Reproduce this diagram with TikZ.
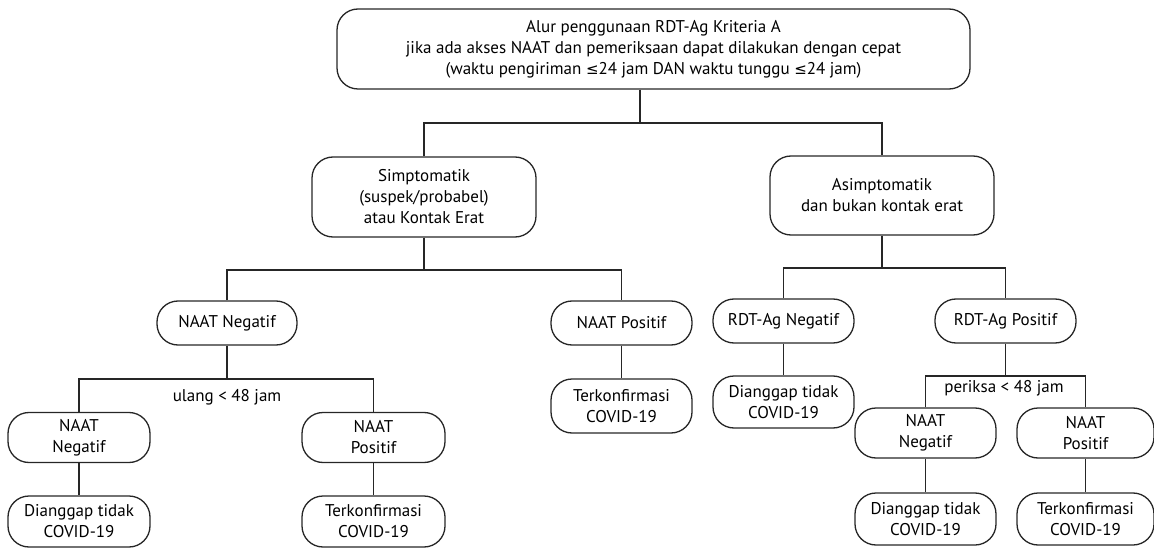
\documentclass[tikz,border=0pt]{standalone}
\usepackage{fontspec}
\setmainfont{PT Sans}
\newfontfamily\symfont{DejaVu Sans}
\newcommand{\lesseq}{{\symfont\fontsize{15}{21}\selectfont ≤}}
\begin{document}
\begin{tikzpicture}[x=1pt,y=-1pt,
  box/.style={draw=black!85, line width=1.3pt, rounded corners=21pt, align=center, inner sep=0pt,
    font=\fontsize{17}{21}\selectfont},
  conn/.style={draw=black!85, line width=1.3pt},
  lbl/.style={font=\fontsize{17}{21}\selectfont, inner sep=0pt}]
\useasboundingbox (0,0) rectangle (1154,548);
% level 0
\node[box, minimum width=633pt, minimum height=80pt] (top) at (653.5,49)
  {Alur penggunaan RDT-Ag Kriteria A\\
   jika ada akses NAAT dan pemeriksaan dapat dilakukan dengan cepat\\
   (waktu pengiriman \lesseq24 jam DAN waktu tunggu \lesseq24 jam)};
% level 1
\node[box, minimum width=224pt, minimum height=80pt] (simp) at (424,197)
  {Simptomatik\\(suspek/probabel)\\atau Kontak Erat};
\node[box, minimum width=224pt, minimum height=79pt] (asim) at (882,195.5)
  {Asimptomatik\\dan bukan kontak erat};
% level 2
\node[box, minimum width=140pt, minimum height=44pt] (nn1) at (227,323) {NAAT Negatif};
\node[box, minimum width=141pt, minimum height=44pt] (np1) at (621.5,323) {NAAT Positif};
\node[box, minimum width=141pt, minimum height=44pt] (rn) at (783.5,321) {RDT-Ag Negatif};
\node[box, minimum width=141pt, minimum height=44pt] (rp) at (1005.5,321) {RDT-Ag Positif};
% level 3
\node[box, minimum width=142pt, minimum height=50pt] (nnA) at (79,437.5) {NAAT\\Negatif};
\node[box, minimum width=143pt, minimum height=50pt] (npA) at (373.5,437.5) {NAAT\\Positif};
\node[box, minimum width=141pt, minimum height=54pt] (t1) at (621.5,406) {Terkonfirmasi\\COVID-19};
\node[box, minimum width=141pt, minimum height=52pt] (d1) at (783.5,402) {Dianggap tidak\\COVID-19};
\node[box, minimum width=141pt, minimum height=50pt] (nnB) at (925.5,433) {NAAT\\Negatif};
\node[box, minimum width=137pt, minimum height=50pt] (npB) at (1085.5,433) {NAAT\\Positif};
% level 4
\node[box, minimum width=142pt, minimum height=51pt] (dA) at (79,521.5) {Dianggap tidak\\COVID-19};
\node[box, minimum width=143pt, minimum height=51pt] (tA) at (373.5,521.5) {Terkonfirmasi\\COVID-19};
\node[box, minimum width=141pt, minimum height=52pt] (dB) at (925.5,519) {Dianggap tidak\\COVID-19};
\node[box, minimum width=137pt, minimum height=52pt] (tB) at (1085.5,519) {Terkonfirmasi\\COVID-19};
% labels
\node[lbl] (l1) at (227,397) {ulang < 48 jam};
\node[lbl] (l2) at (1004,388) {periksa < 48 jam};
% junction coordinates
\coordinate (b0) at (640,123);
\coordinate (b1) at (424,270);
\coordinate (b2) at (882,268);
\coordinate (b3) at (227,379);
\coordinate (b4) at (1005.5,376);
% connectors
\draw[conn] (top.south -| b0) -- (b0);
\draw[conn] (simp.north) |- (b0) -| (asim.north);
\draw[conn] (simp.south) -- (b1);
\draw[conn] (nn1.north) |- (b1) -| (np1.north);
\draw[conn] (asim.south) -- (b2);
\draw[conn] (rn.north) |- (b2) -| (rp.north);
\draw[conn] (nn1.south) -- (b3);
\draw[conn] (nnA.north) |- (b3) -| (npA.north);
\draw[conn] (rp.south) -- (b4);
\draw[conn] (nnB.north) |- (b4) -| (npB.north);
\draw[conn] (nnA.south) -- (dA.north);
\draw[conn] (npA.south) -- (tA.north);
\draw[conn] (np1.south) -- (t1.north);
\draw[conn] (rn.south) -- (d1.north);
\draw[conn] (nnB.south) -- (dB.north);
\draw[conn] (npB.south) -- (tB.north);
\end{tikzpicture}
\end{document}
